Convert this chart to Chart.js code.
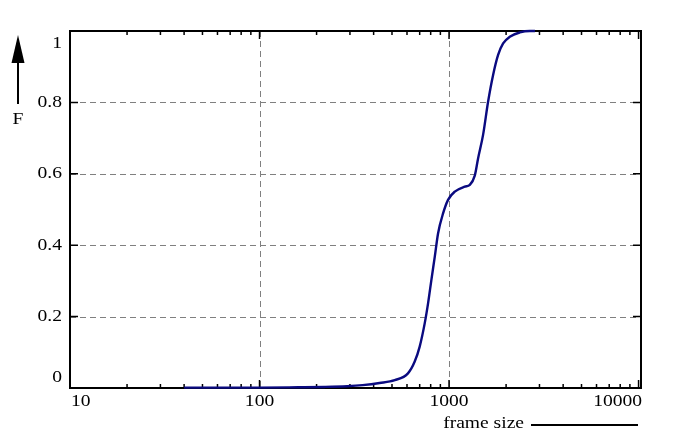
<!DOCTYPE html>
<html>
<head>
<meta charset="utf-8">
<script src="https://cdn.jsdelivr.net/npm/chart.js@4/dist/chart.umd.min.js"></script>
<style>
html,body{margin:0;padding:0;background:#fff;}
#wrap{width:689px;height:444px;}
</style>
</head>
<body>
<div id="wrap"><canvas id="c" width="689" height="444"></canvas></div>
<script>
// ---- data ----
const frameSizes = [40, 70, 100, 160, 220, 290, 350, 430, 517, 607, 659, 700, 744, 775, 807, 841, 875, 930, 988, 1072, 1211, 1287, 1367, 1423, 1512, 1607, 1708, 1815, 1929, 2092, 2364, 2670, 2840];
const cdfValues  = [0.001, 0.001, 0.001, 0.002, 0.003, 0.005, 0.008, 0.014, 0.022, 0.041, 0.074, 0.116, 0.181, 0.237, 0.303, 0.368, 0.433, 0.489, 0.527, 0.55, 0.564, 0.569, 0.595, 0.643, 0.709, 0.802, 0.877, 0.933, 0.965, 0.984, 0.996, 1.0, 1.0];
const xTickValues = [10, 100, 1000, 10000];
const xTickLabels = ['10', '100', '1000', '10000'];
const yTickValues = [0, 0.2, 0.4, 0.6, 0.8, 1];
const yTickLabels = ['0', '0.2', '0.4', '0.6', '0.8', '1'];
const seriesLabel = 'frame size';
const yAxisLabel = 'F';

const FONT = "17px 'Liberation Serif'";
const SX = 1.15;

function stretchedText(ctx, txt, x, y, align) {
  ctx.save();
  ctx.font = FONT;
  ctx.textBaseline = 'middle';
  const w = ctx.measureText(txt).width * SX;
  let left = x;
  if (align === 'right') left = x - w;
  else if (align === 'center') left = x - w / 2;
  ctx.translate(left, y);
  ctx.scale(SX, 1);
  ctx.textAlign = 'left';
  ctx.fillText(txt, 0, 0);
  ctx.restore();
}

const framePlugin = {
  id: 'framePlugin',
  beforeDatasetsDraw(chart) {
    const {ctx, chartArea: a, scales: {x, y}} = chart;
    ctx.save();
    ctx.strokeStyle = '#808080';
    ctx.lineWidth = 1;
    ctx.setLineDash([6, 4]);
    yTickValues.forEach(v => {
      if (v <= 0 || v >= 1) return;
      const py = Math.round(y.getPixelForValue(v)) + 0.5;
      ctx.beginPath(); ctx.moveTo(a.left, py); ctx.lineTo(a.right, py); ctx.stroke();
    });
    xTickValues.forEach(v => {
      const px = Math.round(x.getPixelForValue(v)) + 0.5;
      if (px <= a.left + 2 || px >= a.right - 2) return;
      ctx.beginPath(); ctx.moveTo(px, a.top); ctx.lineTo(px, a.bottom); ctx.stroke();
    });
    ctx.setLineDash([]);
    ctx.strokeStyle = '#000';
    ctx.fillStyle = '#000';
    ctx.lineWidth = 2;
    ctx.strokeRect(a.left, a.top, a.right - a.left, a.bottom - a.top);
    // y ticks (inward, both sides)
    ctx.lineWidth = 1.5;
    yTickValues.forEach(v => {
      const py = y.getPixelForValue(v);
      ctx.beginPath();
      ctx.moveTo(a.left, py); ctx.lineTo(a.left + 8, py);
      ctx.moveTo(a.right, py); ctx.lineTo(a.right - 8, py);
      ctx.stroke();
    });
    // x ticks major + minor (inward, bottom and top)
    for (let d = 0; d < xTickValues.length; d++) {
      const base = xTickValues[d];
      for (let m = 1; m <= 9; m++) {
        const v = base * m;
        if (v > x.max) break;
        const px = x.getPixelForValue(v);
        const len = m === 1 ? 8 : 4;
        ctx.beginPath();
        ctx.moveTo(px, a.bottom); ctx.lineTo(px, a.bottom - len);
        ctx.moveTo(px, a.top); ctx.lineTo(px, a.top + len);
        ctx.stroke();
      }
    }
    ctx.restore();
  },
  afterDatasetsDraw(chart) {
    const {ctx, chartArea: a, scales: {x, y}} = chart;
    ctx.save();
    ctx.strokeStyle = '#000';
    ctx.fillStyle = '#000';
    // y tick labels
    yTickValues.forEach((v, i) => {
      let py = y.getPixelForValue(v);
      if (i === 0) py -= 10;
      if (i === yTickValues.length - 1) py += 13;
      stretchedText(ctx, yTickLabels[i], a.left - 8, py, 'right');
    });
    // x tick labels
    xTickValues.forEach((v, i) => {
      const px = x.getPixelForValue(v);
      let align = 'center', xx = px;
      if (i === 0) { align = 'left'; xx = a.left + 1; }
      if (i === xTickValues.length - 1) { align = 'right'; xx = a.right + 1; }
      stretchedText(ctx, xTickLabels[i], xx, a.bottom + 14, align);
    });
    // key: label + sample line
    stretchedText(ctx, seriesLabel, 524, 424, 'right');
    ctx.lineWidth = 2;
    ctx.beginPath(); ctx.moveTo(531, 425); ctx.lineTo(638, 425); ctx.stroke();
    // y axis label with arrow
    ctx.beginPath(); ctx.moveTo(18, 60); ctx.lineTo(18, 104); ctx.stroke();
    ctx.beginPath(); ctx.moveTo(18, 35); ctx.lineTo(11.5, 63); ctx.lineTo(24.5, 63); ctx.closePath(); ctx.fill();
    stretchedText(ctx, yAxisLabel, 18, 120, 'center');
    ctx.restore();
  }
};

function build() {
  new Chart(document.getElementById('c'), {
    type: 'line',
    data: {
      datasets: [{
        label: seriesLabel,
        data: frameSizes.map((s, i) => ({x: s, y: cdfValues[i]})),
        borderColor: '#0a0a80',
        borderWidth: 2.4,
        pointRadius: 0,
        fill: false,
        clip: 4,
        cubicInterpolationMode: 'monotone'
      }]
    },
    options: {
      responsive: false,
      devicePixelRatio: 1,
      animation: false,
      layout: {padding: {left: 70, top: 31, right: 48, bottom: 56}},
      plugins: {legend: {display: false}, tooltip: {enabled: false}},
      scales: {
        x: {type: 'logarithmic', min: 10, max: 10300, display: false},
        y: {type: 'linear', min: 0, max: 1, display: false}
      }
    },
    plugins: [framePlugin]
  });
}
if (document.fonts && document.fonts.load) {
  document.fonts.load(FONT).then(build, build);
} else {
  build();
}
</script>
</body>
</html>
